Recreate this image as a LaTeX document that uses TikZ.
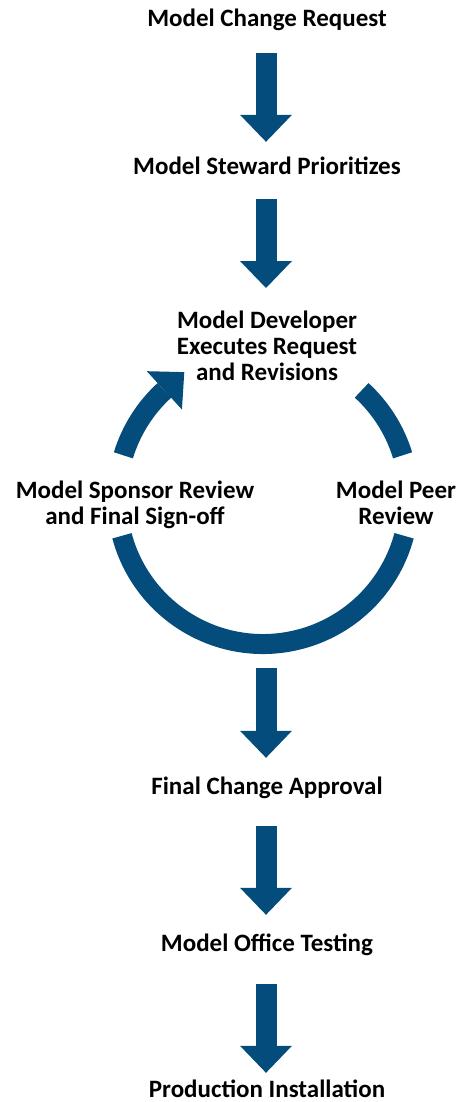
\documentclass[tikz,border=0pt]{standalone}
\usepackage{fontspec}
\setmainfont{Carlito}
\usepackage{tikz}
\usetikzlibrary{arrows.meta}
\usepackage{xcolor}
\definecolor{flowblue}{HTML}{044C7B}

\tikzset{
  lbl/.style={font=\fontsize{25}{26}\selectfont\bfseries, inner sep=0pt, anchor=base, text height=16pt, text depth=5pt},
  mlbl/.style={font=\fontsize{25}{26}\selectfont\bfseries, inner sep=0pt, align=center, anchor=north},
  bigtip/.style={-{Triangle[length=27pt, width=52pt, line width=0pt]}},
  blockarrow/.style={draw=flowblue, line width=21pt, bigtip},
  ringline/.style={draw=flowblue, line width=20pt}
}

\begin{document}
\begin{tikzpicture}[x=1pt, y=1pt]
\useasboundingbox (0,0) rectangle (460,-1102);
\node[lbl] (req) at (267,-27) {Model Change Request};
\node[lbl] (steward) at (267,-175) {Model Steward Prioritizes};
\node[mlbl] (dev) at (267,-311) {Model Developer\\Executes Request\\and Revisions};
\node[mlbl] (sponsor) at (135,-481) {Model Sponsor Review\\and Final Sign-off};
\node[mlbl] (peer) at (396,-481) {Model Peer\\Review};
\node[lbl] (final) at (267,-794) {Final Change Approval};
\node[lbl] (office) at (267,-951) {Model Office Testing};
\node[lbl] (prod) at (267,-1097) {Production Installation};
\coordinate (ring) at (263,-498);
\coordinate (ringbot) at (266,-668);

\draw[blockarrow] ([xshift=-1pt, yshift=-21pt]req.south) -- ([xshift=-1pt, yshift=17pt]steward.north);
\draw[blockarrow] ([xshift=-1pt, yshift=-19pt]steward.south) -- ([xshift=-1pt, yshift=23pt]dev.north);

% the review cycle
\draw[ringline] ([shift={(-165:146)}]ring) arc[start angle=-165, end angle=-15, radius=146];
\draw[ringline] ([shift={(17:146)}]ring) arc[start angle=17, end angle=47.5, radius=146];
\draw[ringline, bigtip] ([shift={(163:146)}]ring) arc[start angle=163, end angle=132.5, radius=146] -- ++(42.5:27);

\draw[blockarrow] (ringbot) -- ([xshift=-1pt, yshift=20pt]final.north);
\draw[blockarrow] ([xshift=-1pt, yshift=-27pt]final.south) -- ([xshift=-1pt, yshift=20pt]office.north);
\draw[blockarrow] ([xshift=-1pt, yshift=-28pt]office.south) -- ([xshift=-1pt, yshift=8pt]prod.north);
\end{tikzpicture}
\end{document}
